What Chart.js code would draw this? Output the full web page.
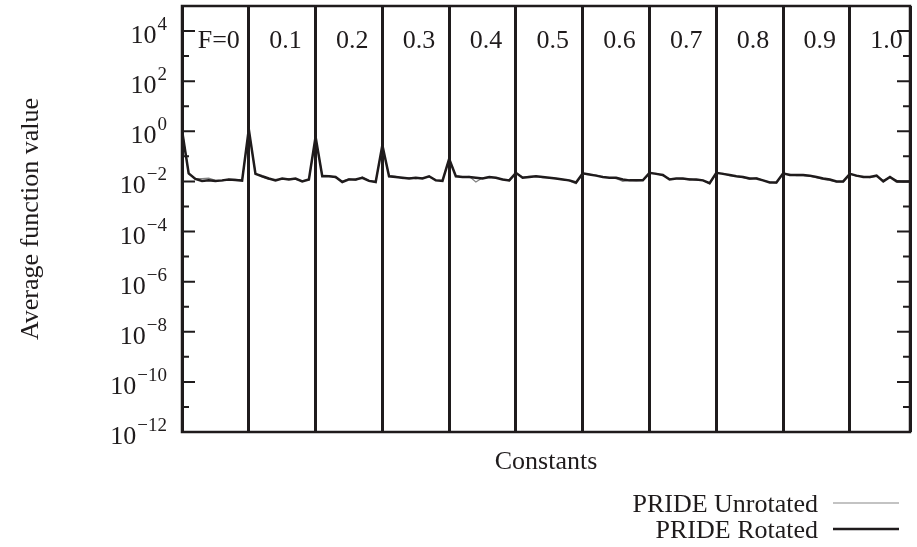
<!DOCTYPE html>
<html lang="en">
<head>
<meta charset="UTF-8">
<title>Average function value</title>
<script src="https://cdn.jsdelivr.net/npm/chart.js"></script>
<style>
    body { margin: 0; background: #fff; }
    #wrap { width: 917px; height: 547px; }
</style>
</head>
<body>
<div id="wrap"><canvas id="chart" width="917" height="547"></canvas></div>
<script>
// group labels (value of F), 10 runs per group
const groupLabels = ['F=0', '0.1', '0.2', '0.3', '0.4', '0.5', '0.6', '0.7', '0.8', '0.9', '1.0'];
const perGroup = 10;

// y axis exponents (10^e)
const yExps = [-12, -11, -10, -9, -8, -7, -6, -5, -4, -3, -2, -1, 0, 1, 2, 3, 4];

const rotated = [
    1.1, 0.021, 0.0125, 0.0105, 0.011, 0.0105, 0.011, 0.012, 0.0115, 0.0108,
    1.2, 0.02, 0.016, 0.013, 0.011, 0.013, 0.012, 0.013, 0.010, 0.012,
    0.6, 0.016, 0.016, 0.015, 0.0095, 0.012, 0.012, 0.014, 0.0105, 0.0095,
    0.28, 0.016, 0.015, 0.014, 0.013, 0.014, 0.013, 0.016, 0.011, 0.0105,
    0.08, 0.016, 0.015, 0.015, 0.014, 0.013, 0.015, 0.014, 0.012, 0.011,
    0.022, 0.014, 0.015, 0.016, 0.015, 0.014, 0.013, 0.012, 0.011, 0.009,
    0.021, 0.019, 0.017, 0.015, 0.014, 0.014, 0.012, 0.011, 0.011, 0.011,
    0.022, 0.020, 0.018, 0.012, 0.013, 0.013, 0.012, 0.012, 0.011, 0.0085,
    0.022, 0.020, 0.018, 0.016, 0.015, 0.013, 0.013, 0.011, 0.009, 0.009,
    0.021, 0.018, 0.018, 0.018, 0.017, 0.015, 0.013, 0.012, 0.010, 0.010,
    0.020, 0.017, 0.015, 0.015, 0.017, 0.010, 0.015, 0.010, 0.010, 0.010
];

const unrotated = [
    1.2, 0.02, 0.013, 0.013, 0.0135, 0.011, 0.0105, 0.012, 0.012, 0.011,
    1.1, 0.021, 0.015, 0.012, 0.012, 0.012, 0.013, 0.012, 0.0105, 0.0115,
    0.55, 0.018, 0.017, 0.014, 0.010, 0.013, 0.011, 0.015, 0.011, 0.0098,
    0.25, 0.017, 0.016, 0.013, 0.014, 0.013, 0.014, 0.015, 0.0115, 0.011,
    0.075, 0.017, 0.015, 0.016, 0.0095, 0.014, 0.014, 0.014, 0.0125, 0.0105,
    0.021, 0.015, 0.016, 0.016, 0.014, 0.014, 0.013, 0.012, 0.0105, 0.008,
    0.02, 0.019, 0.018, 0.015, 0.014, 0.013, 0.010, 0.011, 0.0105, 0.011,
    0.021, 0.021, 0.017, 0.013, 0.013, 0.012, 0.013, 0.011, 0.011, 0.008,
    0.021, 0.021, 0.017, 0.016, 0.014, 0.012, 0.014, 0.011, 0.0095, 0.0085,
    0.02, 0.019, 0.017, 0.017, 0.016, 0.014, 0.012, 0.011, 0.0095, 0.0095,
    0.021, 0.016, 0.016, 0.014, 0.016, 0.011, 0.014, 0.011, 0.0095, 0.010
];

const serif = '"Liberation Serif", "Times New Roman", serif';
const ink = '#1f1b1c';

const decorPlugin = {
    id: 'decor',
    afterDraw(chart) {
        const { ctx, chartArea: a, scales } = chart;
        const y = scales.y, x = scales.x;
        ctx.save();

        // frame
        ctx.strokeStyle = ink;
        ctx.lineWidth = 2.5;
        ctx.strokeRect(a.left, a.top, a.right - a.left, a.bottom - a.top);

        // y ticks (inward, both sides) and labels
        ctx.lineWidth = 2;
        yExps.forEach(e => {
            const py = y.getPixelForValue(Math.pow(10, e));
            const major = e % 2 === 0;
            const len = major ? 13 : 7;
            ctx.beginPath();
            ctx.moveTo(a.left, py); ctx.lineTo(a.left + len, py);
            ctx.moveTo(a.right, py); ctx.lineTo(a.right - len, py);
            ctx.stroke();
            if (major) {
                const exp = e < 0 ? '\u2212' + (-e) : String(e);
                ctx.fillStyle = ink;
                ctx.textAlign = 'right';
                ctx.textBaseline = 'alphabetic';
                ctx.font = '19px ' + serif;
                const ew = ctx.measureText(exp).width;
                ctx.fillText(exp, 167, py - 1);
                ctx.font = '26px ' + serif;
                ctx.fillText('10', 167 - ew - 1, py + 12);
            }
        });

        // group labels
        ctx.font = '26px ' + serif;
        ctx.textAlign = 'center';
        ctx.fillStyle = ink;
        groupLabels.forEach((lab, k) => {
            ctx.fillText(lab, x.getPixelForValue(k * perGroup + 5.5), 48);
        });

        // axis titles
        ctx.fillText('Constants', (a.left + a.right) / 2, 469);
        ctx.save();
        ctx.translate(38, (a.top + a.bottom) / 2);
        ctx.rotate(-Math.PI / 2);
        ctx.fillText('Average function value', 0, 0);
        ctx.restore();

        // legend
        ctx.textAlign = 'right';
        ctx.fillText('PRIDE Unrotated', 818, 512);
        ctx.fillText('PRIDE Rotated', 818, 538);
        ctx.strokeStyle = '#888';
        ctx.lineWidth = 1.2;
        ctx.beginPath(); ctx.moveTo(833, 503); ctx.lineTo(899, 503); ctx.stroke();
        ctx.strokeStyle = ink;
        ctx.lineWidth = 2.5;
        ctx.beginPath(); ctx.moveTo(833, 529); ctx.lineTo(899, 529); ctx.stroke();

        ctx.restore();
    }
};

const toPoints = arr => arr.map((v, i) => ({ x: i, y: v }));

new Chart(document.getElementById('chart').getContext('2d'), {
    type: 'line',
    data: {
        datasets: [
            {
                label: 'PRIDE Unrotated',
                data: toPoints(unrotated),
                borderColor: '#808080',
                borderWidth: 1.2,
                pointRadius: 0,
                tension: 0,
                order: 2
            },
            {
                label: 'PRIDE Rotated',
                data: toPoints(rotated),
                borderColor: ink,
                borderWidth: 2.5,
                pointRadius: 0,
                tension: 0,
                order: 1
            }
        ]
    },
    options: {
        responsive: false,
        animation: false,
        layout: { padding: { top: 6, right: 7, left: 0, bottom: 0 } },
        plugins: { legend: { display: false }, tooltip: { enabled: false } },
        scales: {
            x: {
                type: 'linear',
                min: 0,
                max: rotated.length - 1,
                ticks: { display: false, stepSize: perGroup },
                grid: { color: ink, lineWidth: 3, drawTicks: false },
                border: { display: false },
                afterFit: s => { s.height = 115; }
            },
            y: {
                type: 'logarithmic',
                min: 1e-12,
                max: 1e5,
                ticks: { display: false },
                grid: { display: false },
                border: { display: false },
                afterFit: s => { s.width = 182; }
            }
        }
    },
    plugins: [decorPlugin]
});
</script>
</body>
</html>
